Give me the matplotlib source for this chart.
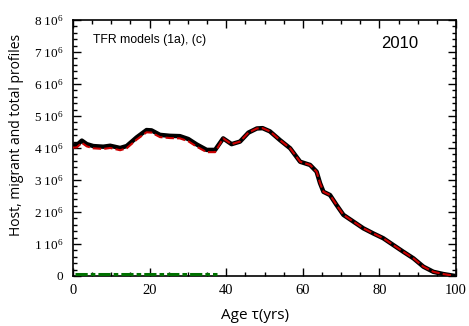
import numpy as np
import matplotlib
matplotlib.use("Agg")
import matplotlib.pyplot as plt
from matplotlib.ticker import MultipleLocator, FuncFormatter

plt.rcParams["mathtext.fontset"] = "custom"
plt.rcParams["mathtext.rm"] = "Liberation Serif"
plt.rcParams["mathtext.it"] = "Liberation Serif:italic"

# Total profile (black), in millions
age = [0, 1, 2.3, 3.6, 5.3, 7.9, 9.7, 12.3, 14, 16.6, 19.2, 20.5, 22.7, 25.3,
       27.9, 30.1, 32.3, 34.9, 37.1, 39.2, 41.4, 43.6, 45.8, 48, 49.5, 51.4,
       54, 56.7, 59.3, 61.9, 63.6, 64.5, 65.4, 67.1, 68.8, 70.6, 73.2, 75.8,
       78.4, 81, 83.6, 86.2, 88.9, 91.5, 94.1, 96.7, 99.3]
total = [4.08, 4.09, 4.23, 4.12, 4.06, 4.04, 4.07, 4.0, 4.06, 4.33, 4.56, 4.55,
         4.41, 4.38, 4.37, 4.28, 4.11, 3.94, 3.94, 4.3, 4.12, 4.2, 4.48, 4.61,
         4.62, 4.52, 4.25, 3.99, 3.57, 3.47, 3.26, 2.9, 2.63, 2.53, 2.22, 1.91,
         1.7, 1.49, 1.33, 1.18, 0.97, 0.76, 0.55, 0.29, 0.13, 0.06, 0.01]

# Migrant profile (green dash-dot), close to zero up to ~38 yrs
mig_age = [0.5, 10, 20, 30, 37.6]
migrant = [0.07, 0.07, 0.07, 0.07, 0.07]

# Host profile (red) = total minus migrant contribution
host = [t - (0.07 if a <= 38 else 0.0) for a, t in zip(age, total)]

fig = plt.figure(figsize=(4.69, 3.26), dpi=100)
ax = fig.add_axes([0.1557, 0.1534, 0.8166, 0.7853])

ax.plot(age, np.array(total) * 1e6, color="black", lw=3.2, zorder=2)
ax.plot(age, np.array(host) * 1e6, color="#cc0000", lw=1.5, dashes=(4, 1.5), zorder=3)
ax.plot(mig_age, np.array(migrant) * 1e6, color="#007000", lw=2.2,
        dashes=(4, 1, 1.5, 1), zorder=4, clip_on=False)

ax.set_xlim(0, 100)
ax.set_ylim(0, 8e6)

ax.xaxis.set_major_locator(MultipleLocator(20))
ax.xaxis.set_minor_locator(MultipleLocator(5))
ax.yaxis.set_major_locator(MultipleLocator(1e6))
ax.yaxis.set_minor_locator(MultipleLocator(2e5))


def ylab(v, pos):
    n = int(round(v / 1e6))
    if n == 0:
        return "0"
    return r"%d 10$^{6}$" % n


ax.yaxis.set_major_formatter(FuncFormatter(ylab))
ax.tick_params(which="both", direction="in", top=True, right=True, width=1)
ax.tick_params(which="major", length=6)
ax.tick_params(which="minor", length=3)
ax.tick_params(axis="x", labelsize=10.5, pad=6)
ax.tick_params(axis="y", labelsize=9.5, pad=7)
for lab in ax.get_xticklabels() + ax.get_yticklabels():
    lab.set_family("Liberation Serif")

for sp in ax.spines.values():
    sp.set_linewidth(1.2)

ax.set_xlabel("Age τ(yrs)", fontsize=11, family="Open Sans")
ax.xaxis.set_label_coords(0.476, -0.125)
ax.set_ylabel("Host, migrant and total profiles", fontsize=10, family="Open Sans")
ax.yaxis.set_label_coords(-0.128, 0.55)

ax.text(0.052, 0.922, "TFR models (1a), (c)", transform=ax.transAxes,
        fontsize=8.8, family="Liberation Sans", va="center")
ax.text(0.804, 0.91, "2010", transform=ax.transAxes,
        fontsize=12, family="Liberation Sans", va="center")

fig.savefig("out.png", dpi=100)
